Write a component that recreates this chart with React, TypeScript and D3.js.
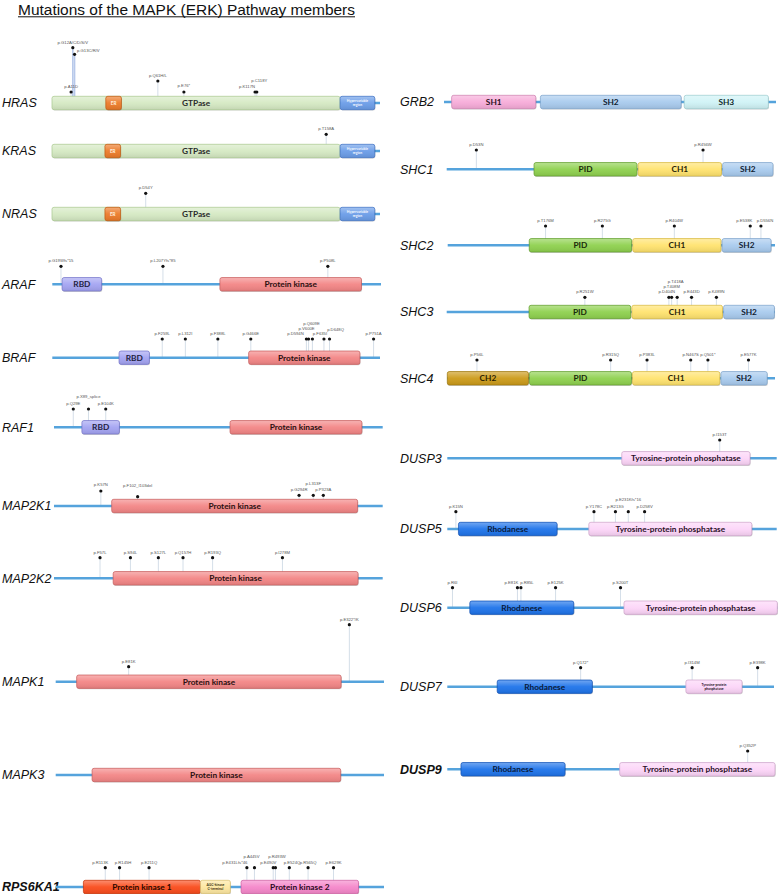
import React from "react";
import * as d3 from "d3";

// ---------------- DATA ----------------
const TITLE = "Mutations of the MAPK (ERK) Pathway members";

const LEFT_GENES = ["HRAS", "KRAS", "NRAS", "ARAF", "BRAF", "RAF1", "MAP2K1", "MAP2K2", "MAPK1", "MAPK3", "RPS6KA1"];
const RIGHT_GENES = ["GRB2", "SHC1", "SHC2", "SHC3", "SHC4", "DUSP3", "DUSP5", "DUSP6", "DUSP7", "DUSP9"];

const LENGTHS: Record<string, number> = {
  HRAS: 189, KRAS: 189, NRAS: 189, ARAF: 606, BRAF: 766, RAF1: 648, MAP2K1: 393, MAP2K2: 400,
  MAPK1: 360, MAPK3: 379, RPS6KA1: 735, GRB2: 217, SHC1: 583, SHC2: 582, SHC3: 594, SHC4: 630,
  DUSP3: 185, DUSP5: 384, DUSP6: 381, DUSP7: 419, DUSP9: 384,
};

type Dom = [number, number, string];
type Mut = [number, string];

const DOMAINS: Record<string, Dom[]> = {
  HRAS: [[0, 166, "GTPase"], [31, 40, "ER"], [166, 186, "Hypervariable\nregion"]],
  KRAS: [[0, 166, "GTPase"], [30.5, 39.5, "ER"], [166, 186, "Hypervariable\nregion"]],
  NRAS: [[0, 166, "GTPase"], [30.5, 39.5, "ER"], [166, 186, "Hypervariable\nregion"]],
  ARAF: [[18, 91, "RBD"], [309, 570, "Protein kinase"]],
  BRAF: [[156, 227, "RBD"], [459, 719, "Protein kinase"]],
  RAF1: [[55, 129, "RBD"], [347, 607, "Protein kinase"]],
  MAP2K1: [[69, 363, "Protein kinase"]],
  MAP2K2: [[72, 370, "Protein kinase"]],
  MAPK1: [[23, 313, "Protein kinase"]],
  MAPK3: [[42, 329, "Protein kinase"]],
  RPS6KA1: [[62, 324, "Protein kinase 1"], [324, 391, "AGC-kinase\nC-terminal"], [415, 678, "Protein kinase 2"]],
  GRB2: [[5, 60, "SH1"], [63, 155, "SH2"], [157, 212, "SH3"]],
  SHC1: [[156, 340, "PID"], [342, 491, "CH1"], [493, 583, "SH2"]],
  SHC2: [[145, 327, "PID"], [329, 486, "CH1"], [488, 575, "SH2"]],
  SHC3: [[149, 333, "PID"], [335, 499, "CH1"], [501, 593, "SH2"]],
  SHC4: [[0, 156, "CH2"], [158, 354, "PID"], [356, 524, "CH1"], [526, 615, "SH2"]],
  DUSP3: [[98, 170, "Tyrosine-protein phosphatase"]],
  DUSP5: [[13, 128, "Rhodanese"], [165, 355, "Tyrosine-protein phosphatase"]],
  DUSP6: [[26, 146, "Rhodanese"], [204, 381, "Tyrosine-protein phosphatase"]],
  DUSP7: [[64, 186, "Rhodanese"], [306, 378, "Tyrosine-protein\nphosphatase"]],
  DUSP9: [[16, 138, "Rhodanese"], [202, 384, "Tyrosine-protein phosphatase"]],
};

const MUTATIONS: Record<string, Mut[]> = {
  HRAS: [[11, "p.A11D"], [12, "p.G12A/C/D/S/V"], [13, "p.G13C/R/V"], [61, "p.Q61H/L"], [76, "p.E76*"], [117, "p.K117N"], [118, "p.C118Y"]],
  KRAS: [[158, "p.T158A"]],
  NRAS: [[54, "p.D54Y"]],
  ARAF: [[16, "p.G19Wfs*15"], [204, "p.L207Yfs*85"], [508, "p.P508L"]],
  BRAF: [[257, "p.F259L"], [311, "p.L312I"], [387, "p.F388L"], [464, "p.G466E"], [594, "p.D594N"], [599, "p.V600E"], [608, "p.Q609E"], [635, "p.F635I"], [648, "p.D648Q"], [751, "p.P751A"]],
  RAF1: [[38, "p.Q29E"], [68, "p.X89_splice"], [102, "p.E104K"]],
  MAP2K1: [[56, "p.K57N"], [100, "p.F102_I103del"], [293, "p.G294R"], [310, "p.L313F"], [322, "p.P323A"]],
  MAP2K2: [[56, "p.F57L"], [93, "p.S94L"], [127, "p.S127L"], [157, "p.Q157H"], [193, "p.R193Q"], [278, "p.I278M"]],
  MAPK1: [[80, "p.E81K"], [322, "p.E322*/K"]],
  MAPK3: [],
  RPS6KA1: [[111, "p.R113K"], [143, "p.R145H"], [209, "p.E211Q"], [428, "p.E431Lfs*46"], [445, "p.A445V"], [487, "p.E490V"], [492, "p.R493W"], [523, "p.E524Q"], [565, "p.R565Q"], [622, "p.E629K"]],
  GRB2: [],
  SHC1: [[53, "p.D53N"], [458, "p.R456W"]],
  SHC2: [[174, "p.T176M"], [275, "p.R275G"], [403, "p.R404W"], [538, "p.E538K"], [557, "p.D556N"]],
  SHC3: [[250, "p.R251W"], [402, "p.D404N"], [407, "p.T408M"], [417, "p.T418A"], [443, "p.E443D"], [488, "p.K489N"]],
  SHC4: [[57, "p.P56L"], [314, "p.R315Q"], [384, "p.P383L"], [468, "p.N467S"], [501, "p.Q501*"], [579, "p.E577K"]],
  DUSP3: [[153, "p.I153T"]],
  DUSP5: [[10, "p.K15N"], [171, "p.Y178C"], [196, "p.R213G"], [211, "p.E231Kfs*16"], [230, "p.D258V"]],
  DUSP6: [[6, "p.R6I"], [81, "p.E81K"], [85, "p.R85L"], [125, "p.E125K"], [200, "p.S200T"]],
  DUSP7: [[171, "p.Q172*"], [314, "p.I314M"], [398, "p.E398K"]],
  DUSP9: [[352, "p.Q352P"]],
};

// ---------------- LAYOUT / STYLE ----------------
// row: pixel of aa 0, pixel of aa length, y of backbone
const ROWS: Record<string, [number, number, number]> = {
  HRAS: [52, 380, 103], KRAS: [52, 380, 151], NRAS: [52, 380, 214], ARAF: [52.3, 381, 284.3],
  BRAF: [52.3, 380, 357.7], RAF1: [54, 382.7, 427.3], MAP2K1: [54, 382.7, 506], MAP2K2: [54, 382.7, 578.3],
  MAPK1: [55.7, 384, 681.7], MAPK3: [55.7, 384, 775], RPS6KA1: [55.7, 384, 887],
  GRB2: [444, 776, 102], SHC1: [446.7, 773, 169.3], SHC2: [447.7, 775, 245.3], SHC3: [446.7, 775, 312],
  SHC4: [447.3, 775, 378.3], DUSP3: [447.3, 776.7, 458.3], DUSP5: [447.3, 776.7, 529],
  DUSP6: [447.3, 777.3, 607.7], DUSP7: [447.3, 774, 686.7], DUSP9: [447.3, 775, 769.3],
};

// stem heights (px above backbone) per mutation
const STEMS: Record<string, number[]> = {
  HRAS: [11, 55.3, 48.7, 22, 11, 11, 11], KRAS: [16.7], NRAS: [20.7], ARAF: [18, 18, 18],
  BRAF: Array(10).fill(18.7), RAF1: [18.3, 18.3, 18.3], MAP2K1: [15, 9.3, 10.7, 10.7, 10.7],
  MAP2K2: Array(6).fill(20.6), MAPK1: [15, 57], RPS6KA1: Array(10).fill(19.3),
  SHC1: [19.3, 19.3], SHC2: Array(5).fill(19.3), SHC3: Array(6).fill(14.7), SHC4: Array(6).fill(18.3),
  DUSP3: [18.3], DUSP5: Array(5).fill(17.3), DUSP6: Array(5).fill(20), DUSP7: [19, 19, 19], DUSP9: [18.3],
};

// label tweaks: [dx, extra lift, anchor]
const TWEAKS: Record<string, Record<number, [number, number, string]>> = {
  HRAS: { 2: [2.5, -2, "start"], 4: [0, 1.5, "middle"], 5: [-8, 0, "middle"], 6: [2.5, 6.5, "middle"] },
  BRAF: { 4: [-11, 0, "middle"], 5: [-2, 5, "middle"], 6: [-1, 10, "middle"], 7: [-4, 0, "middle"], 8: [6, 4.5, "middle"] },
  RAF1: { 1: [0, 6.7, "middle"] },
  MAP2K1: { 0: [0, 1.5, "middle"], 1: [0, 6, "middle"], 3: [0, 6, "middle"] },
  RPS6KA1: { 0: [-5, 0, "middle"], 1: [3.5, 0, "middle"], 3: [-12, 0, "middle"], 4: [-3, 5.5, "middle"], 5: [-5, 0, "middle"], 6: [1.5, 5.5, "middle"], 7: [2.7, 0, "middle"] },
  SHC2: { 3: [-6, 0, "middle"], 4: [4, 0, "middle"] },
  SHC3: { 1: [-2, 0, "middle"], 2: [0, 5, "middle"], 3: [-1.5, 10, "middle"] },
  DUSP5: { 3: [0, 6.7, "middle"] },
  DUSP6: { 1: [-6, 0, "middle"], 2: [6, 0, "middle"] },
};

const COLORS: Record<string, [string, string, string]> = {
  GTPase: ["#d5e9c3", "#a8c78d", "#2a2a2a"],
  ER: ["#ec7b2a", "#bf5a12", "#fff1e0"],
  "Hypervariable\nregion": ["#6b9de8", "#3f70c0", "#f4f8ff"],
  RBD: ["#a4a4f2", "#7070c4", "#1f1f40"],
  "Protein kinase": ["#f38686", "#c35b5b", "#2a1010"],
  "Protein kinase 1": ["#fa4c1c", "#c03208", "#2a0800"],
  "AGC-kinase\nC-terminal": ["#fde7a0", "#d6bd6e", "#3a3010"],
  "Protein kinase 2": ["#f587ca", "#c95c9d", "#2a0a20"],
  PID: ["#8fd14f", "#5f9a2c", "#1a2a0a"],
  CH1: ["#ffe36f", "#d3b43f", "#2a2408"],
  SH2: ["#a9cbee", "#7aa0c8", "#102030"],
  CH2: ["#cc9b1a", "#98720c", "#2a1e02"],
  SH1: ["#f7acd9", "#c97fae", "#2a1020"],
  SH3: ["#d0f3f6", "#9ac8cc", "#102a2c"],
  Rhodanese: ["#1f74ea", "#1250b0", "#0a1a3a"],
  "Tyrosine-protein phosphatase": ["#fcd5f8", "#c8a0c6", "#2a1028"],
  "Tyrosine-protein\nphosphatase": ["#fcd5f8", "#c8a0c6", "#2a1028"],
};

const BOLD_GENES = ["RPS6KA1", "DUSP9"];
const DOMAIN_H = 13.4;
const SANS = "'Liberation Sans', Arial, sans-serif";
const DOMFONT = "Lato, 'Open Sans', sans-serif";

function GeneRow({ gene, labelX }: { gene: string; labelX: number }) {
  const [x0, x1, y] = ROWS[gene];
  const x = d3.scaleLinear().domain([0, LENGTHS[gene]]).range([x0, x1]);
  const doms = DOMAINS[gene] || [];
  const muts = MUTATIONS[gene] || [];
  const stems = STEMS[gene] || [];
  const tw = TWEAKS[gene] || {};
  const half = DOMAIN_H / 2;
  return (
    <g>
      <text x={labelX} y={y + 4.3} fontFamily={SANS} fontStyle="italic" fontWeight={BOLD_GENES.includes(gene) ? 700 : 400}
        fontSize={12.5} fill="#111">{gene}</text>
      {muts.map((m, i) => {
        const cx = x(m[0]);
        const h = stems[i] ?? 18;
        const thick = gene === "HRAS" && (i === 1 || i === 2);
        return <line key={"s" + i} x1={cx} x2={cx} y1={y} y2={y - h} stroke={thick ? "#b7c8ea" : "#c9d5e2"} strokeWidth={thick ? 1.6 : 0.8} />;
      })}
      <line x1={x0} x2={x1} y1={y} y2={y} stroke="#55a3dc" strokeWidth={2.4} />
      {doms.map((d, i) => {
        const [fill, stroke, tcol] = COLORS[d[2]] || ["#ccc", "#999", "#222"];
        const dx0 = x(d[0]);
        const w = x(d[1]) - dx0;
        const lines = d[2].split("\n");
        const small = lines.length > 1;
        const fs = small ? 3.4 : w < 25 ? 4.6 : 8.3;
        return (
          <g key={"d" + i}>
            <rect x={dx0 + 0.6} y={y - half + 0.9} width={w} height={DOMAIN_H} rx={2} fill="rgba(0,0,0,0.18)" />
            <rect x={dx0} y={y - half} width={w} height={DOMAIN_H} rx={2} fill={fill} stroke={stroke} strokeWidth={0.7} />
            <rect x={dx0 + 0.4} y={y - half + 0.4} width={w - 0.8} height={DOMAIN_H - 0.8} rx={1.6} fill="url(#gloss)" />
            <text x={dx0 + w / 2} y={small ? y - 0.6 : y + fs * 0.36} textAnchor="middle" fontFamily={DOMFONT}
              fontWeight={700} fontSize={fs} fill={tcol}>
              {lines.map((l, k) => (
                <tspan key={k} x={dx0 + w / 2} dy={k === 0 ? 0 : fs * 1.2}>{l}</tspan>
              ))}
            </text>
          </g>
        );
      })}
      {muts.map((m, i) => {
        const cx = x(m[0]);
        const h = stems[i] ?? 18;
        const t = tw[i] || [0, 0, "middle"];
        const dotY = y - h;
        return (
          <g key={"m" + i}>
            <circle cx={cx} cy={dotY} r={1.6} fill="#111" />
            <text x={cx + t[0]} y={dotY - 3.9 - t[1]} textAnchor={t[2] as any} fontFamily={SANS} fontSize={4.2} fill="#555">{m[1]}</text>
          </g>
        );
      })}
    </g>
  );
}

export default function App() {
  return (
    <svg width={778} height={894} style={{ position: "absolute", left: 0, top: 0, background: "#fff" }}>
      <defs>
        <linearGradient id="gloss" x1="0" y1="0" x2="0" y2="1">
          <stop offset="0" stopColor="#fff" stopOpacity={0.35} />
          <stop offset="0.5" stopColor="#fff" stopOpacity={0.05} />
          <stop offset="1" stopColor="#000" stopOpacity={0.08} />
        </linearGradient>
      </defs>
      <rect width={778} height={894} fill="#fff" />
      <text x={18} y={14.5} fontFamily={SANS} fontSize={15.5} fill="#111" textLength={337} lengthAdjust="spacingAndGlyphs">{TITLE}</text>
      <line x1={18} x2={355} y1={16.8} y2={16.8} stroke="#111" strokeWidth={1} />
      {LEFT_GENES.map((g) => <GeneRow key={g} gene={g} labelX={2} />)}
      {RIGHT_GENES.map((g) => <GeneRow key={g} gene={g} labelX={400} />)}
    </svg>
  );
}
